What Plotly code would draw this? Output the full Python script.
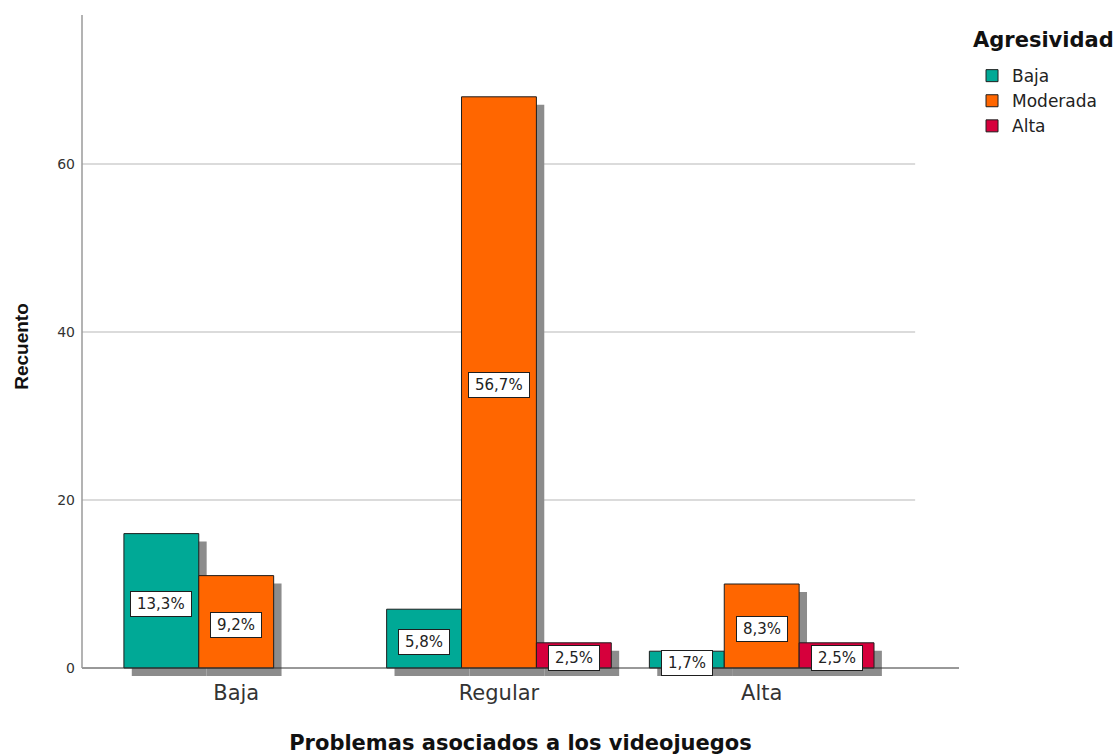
import plotly.graph_objects as go

# Counts of Agresividad levels within each category of video game problems
categories = ["Baja", "Regular", "Alta"]
series_names = ["Baja", "Moderada", "Alta"]
count_baja = [16, 7, 2]
count_moderada = [11, 68, 10]
count_alta = [0, 3, 3]
y_ticks = [0, 20, 40, 60]

series_values = [count_baja, count_moderada, count_alta]
colors = ["#00a996", "#ff6600", "#d6003c"]
total = sum(sum(v) for v in series_values)

bar_w = 0.285
n_series = len(series_names)
offsets = [-bar_w * n_series / 2 + i * bar_w for i in range(n_series)]
shadow_dx = 0.03
shadow_dy = 0.95
x_idx = list(range(len(categories)))
y_range = [-1.19, 77.74]

wide_font = "DejaVu Sans, Verdana, sans-serif"
arial = "Arial, Liberation Sans, sans-serif"
fig = go.Figure()


def nonzero(vals):
    # empty cells are left out rather than drawn as flat bars
    return [v if v > 0 else None for v in vals]


# drop shadows behind the bars
for i, vals in enumerate(series_values):
    fig.add_trace(go.Bar(
        x=x_idx, y=nonzero(vals), base=-shadow_dy,
        offset=offsets[i] + shadow_dx, width=bar_w,
        marker=dict(color="#8c8c8c", line=dict(width=0)),
        showlegend=False, hoverinfo="skip",
    ))

# main bars
for i, (name, vals) in enumerate(zip(series_names, series_values)):
    fig.add_trace(go.Bar(
        x=x_idx, y=nonzero(vals), name=name,
        offset=offsets[i], width=bar_w,
        marker=dict(color=colors[i], line=dict(color="#1e1e1e", width=1)),
    ))

# percentage labels in boxed callouts at mid-height of each bar
annotations = []
for i, vals in enumerate(series_values):
    for j, v in enumerate(vals):
        if v <= 0:
            continue
        pct = f"{100 * v / total:.1f}%".replace(".", ",")
        annotations.append(dict(
            x=j + offsets[i] + bar_w / 2, y=v / 2, xref="x", yref="y",
            text="\u2009" + pct + "\u2009", showarrow=False, yshift=-3,
            bgcolor="white", bordercolor="#1e1e1e", borderwidth=1, borderpad=3,
            font=dict(family=wide_font, size=15, color="#222222"),
        ))

# legend heading
annotations.append(dict(
    x=1.0137, y=0.962, xref="paper", yref="paper", xanchor="left",
    yanchor="middle", showarrow=False, text="<b>Agresividad</b>",
    font=dict(family=wide_font, size=21, color="#111111"),
))

shapes = []
# horizontal gridlines
for t in y_ticks[1:]:
    shapes.append(dict(type="line", xref="paper", yref="y", x0=0, x1=0.95,
                       y0=t, y1=t, line=dict(color="#cfcfcf", width=1.5),
                       layer="below"))
# axis lines
shapes.append(dict(type="line", xref="paper", yref="y", x0=0, x1=1, y0=0, y1=0,
                   line=dict(color="#333333", width=1), layer="above"))
shapes.append(dict(type="line", xref="paper", yref="y", x0=0, x1=0,
                   y0=0, y1=y_range[1], line=dict(color="#9a9a9a", width=1.5),
                   layer="above"))

fig.update_layout(
    width=1113, height=755,
    barmode="overlay",
    plot_bgcolor="white", paper_bgcolor="white",
    margin=dict(l=82, r=153, t=15, b=77),
    font=dict(family=wide_font, color="#222222"),
    xaxis=dict(
        range=[-0.587, 2.751], tickvals=x_idx, ticktext=categories,
        showgrid=False, zeroline=False, showline=False, ticks="",
        tickfont=dict(family=wide_font, size=21, color="#333333"),
        ticklabelstandoff=0, automargin=False,
        title=dict(text="<b>Problemas asociados a los videojuegos</b>",
                   font=dict(family=wide_font, size=21, color="#111111"),
                   standoff=31),
    ),
    yaxis=dict(
        range=y_range, tickvals=y_ticks,
        showgrid=False, zeroline=False, showline=False, ticks="",
        tickfont=dict(family=wide_font, size=14, color="#333333"),
        ticklabelstandoff=6, automargin=False,
        title=dict(text="<b>Recuento</b>",
                   font=dict(family=arial, size=19, color="#111111"),
                   standoff=23),
    ),
    legend=dict(
        x=1.0137, xanchor="left", y=0.935, yanchor="top",
        font=dict(family=wide_font, size=17, color="#222222"),
        itemwidth=30, tracegroupgap=0,
    ),
    shapes=shapes,
    annotations=annotations,
)

fig.write_html("out.html")
